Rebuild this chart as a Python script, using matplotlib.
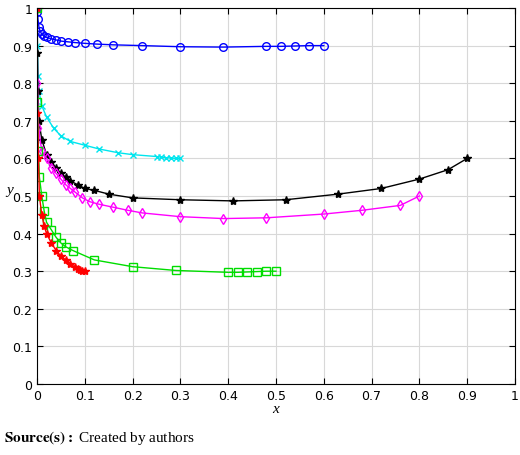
import matplotlib
matplotlib.use("Agg")
import matplotlib.pyplot as plt

plt.rcParams["mathtext.fontset"] = "stix"

# ── Trajectories ───────────────────────────────────────────────────────────
blue_x = [0, 0.001, 0.002, 0.004, 0.006, 0.01, 0.015, 0.02, 0.03, 0.04, 0.05, 0.065,
          0.08, 0.1, 0.125, 0.16, 0.22, 0.3, 0.39, 0.48, 0.51, 0.54, 0.57, 0.6]
blue_y = [1, 0.99, 0.97, 0.95, 0.94, 0.93, 0.925, 0.922, 0.918, 0.915, 0.912, 0.91,
          0.908, 0.906, 0.904, 0.902, 0.9, 0.897, 0.896, 0.898, 0.898, 0.899, 0.9, 0.9]

cyan_x = [0, 0.001, 0.002, 0.004, 0.01, 0.02, 0.035, 0.05, 0.07, 0.1, 0.13, 0.17,
          0.2, 0.25, 0.26, 0.27, 0.28, 0.29, 0.3]
cyan_y = [1, 0.9, 0.82, 0.78, 0.74, 0.71, 0.68, 0.66, 0.645, 0.635, 0.625, 0.615,
          0.61, 0.605, 0.603, 0.602, 0.601, 0.6, 0.6]

black_x = [0, 0.001, 0.002, 0.004, 0.01, 0.02, 0.03, 0.04, 0.05, 0.06, 0.07, 0.085,
           0.1, 0.12, 0.15, 0.2, 0.3, 0.41, 0.52, 0.63, 0.72, 0.8, 0.86, 0.9]
black_y = [1, 0.88, 0.78, 0.7, 0.65, 0.61, 0.59, 0.575, 0.56, 0.55, 0.54, 0.53,
           0.52, 0.515, 0.505, 0.495, 0.49, 0.487, 0.49, 0.505, 0.52, 0.545, 0.57, 0.6]

mag_x = [0, 0.001, 0.003, 0.01, 0.02, 0.03, 0.04, 0.05, 0.06, 0.07, 0.08, 0.095,
         0.11, 0.13, 0.16, 0.19, 0.22, 0.3, 0.39, 0.48, 0.6, 0.68, 0.76, 0.8]
mag_y = [1, 0.8, 0.68, 0.62, 0.6, 0.575, 0.56, 0.545, 0.53, 0.52, 0.51, 0.495,
         0.485, 0.478, 0.47, 0.462, 0.455, 0.445, 0.44, 0.442, 0.452, 0.462, 0.475, 0.5]

green_x = [0, 0.001, 0.003, 0.005, 0.01, 0.015, 0.02, 0.03, 0.04, 0.05, 0.06, 0.075,
           0.12, 0.2, 0.29, 0.4, 0.42, 0.44, 0.46, 0.48, 0.5]
green_y = [1, 0.75, 0.62, 0.55, 0.5, 0.46, 0.43, 0.41, 0.39, 0.375, 0.365, 0.355,
           0.33, 0.312, 0.302, 0.297, 0.297, 0.298, 0.299, 0.3, 0.3]

red_x = [0, 0.001, 0.003, 0.005, 0.01, 0.015, 0.02, 0.03, 0.04, 0.05, 0.06, 0.07,
         0.08, 0.085, 0.09, 0.095, 0.1]
red_y = [1, 0.72, 0.6, 0.5, 0.45, 0.42, 0.4, 0.375, 0.355, 0.34, 0.33, 0.32,
         0.31, 0.305, 0.302, 0.301, 0.3]

SERIES = [
    (blue_x, blue_y, "#0000ff", "o", 5.5),
    (cyan_x, cyan_y, "#00e5ee", "x", 4.5),
    (black_x, black_y, "black", "*", 6),
    (mag_x, mag_y, "#ff00ff", "d", 5.5),
    (green_x, green_y, "#00dd00", "s", 5.5),
    (red_x, red_y, "red", "*", 6),
]

fig = plt.figure(figsize=(5.2, 4.56), dpi=100)
ax = fig.add_axes([37 / 520, 1 - 385 / 456, 478 / 520, 376 / 456])

for xs, ys, color, marker, ms in SERIES:
    ax.plot(xs, ys, "-", color=color, linewidth=1.0, marker=marker,
            markersize=ms, markerfacecolor="none" if marker in "ods" else color,
            markeredgewidth=1.0)

ax.set_xlim(0, 1)
ax.set_ylim(0, 1)
ticks = [i / 10 for i in range(11)]
labels = ["0", "0.1", "0.2", "0.3", "0.4", "0.5", "0.6", "0.7", "0.8", "0.9", "1"]
ax.set_xticks(ticks)
ax.set_yticks(ticks)
ax.set_xticklabels(labels)
ax.set_yticklabels(labels)
ax.tick_params(direction="in", labelsize=9, top=True, right=True, length=4)
ax.grid(True, color="#d8d8d8", linewidth=0.8)
ax.set_axisbelow(True)
ax.set_xlabel("x", fontsize=11, fontstyle="italic", family="Liberation Serif", labelpad=0)
ax.set_ylabel("y", fontsize=11, fontstyle="italic", family="Liberation Serif",
              rotation=0, labelpad=2)

fig.text(4 / 520, 1 - 438 / 456, r"$\mathbf{Source(s):}$ Created by authors",
         fontsize=11, family="Liberation Serif", va="center")

fig.savefig("out.png", dpi=100)
